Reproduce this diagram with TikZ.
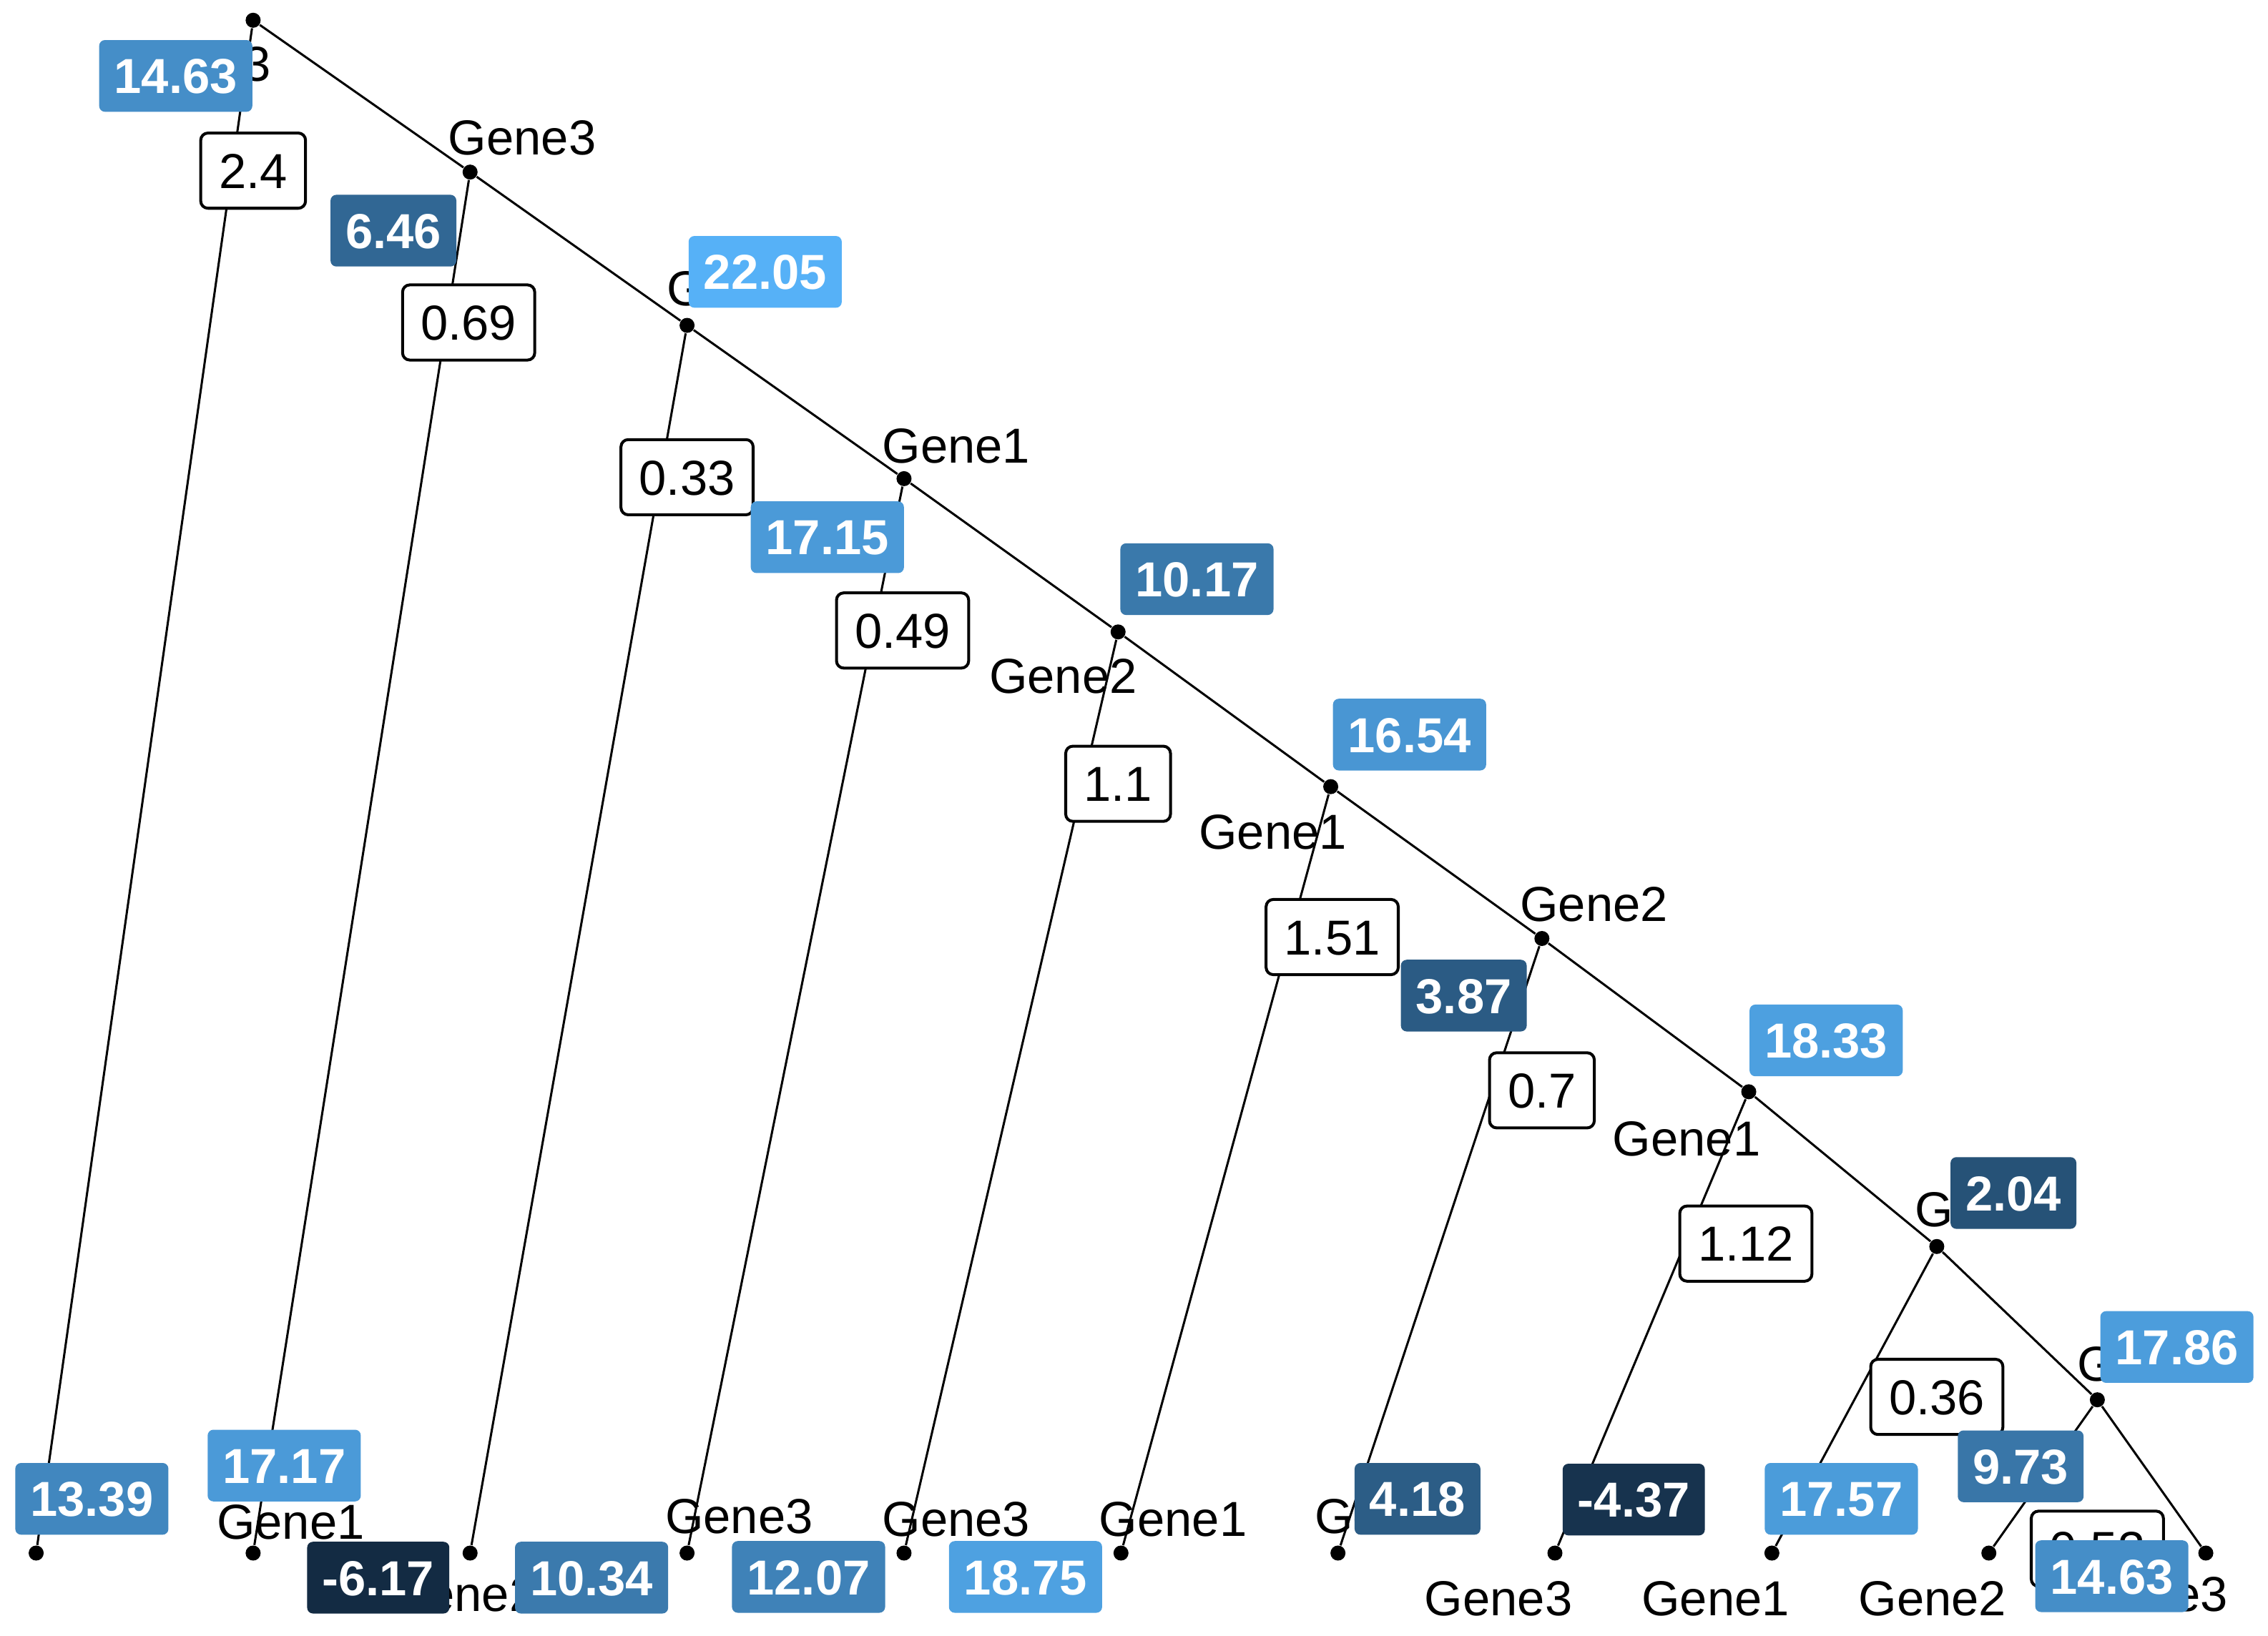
\documentclass[tikz,border=0pt]{standalone}
\usepackage{fontspec}
\setmainfont{Liberation Sans}
\definecolor{lo}{HTML}{132B43}
\definecolor{hi}{HTML}{56B1F7}
\begin{document}
\begin{tikzpicture}[x=0.5pt,y=-0.5pt,
  every node/.style={font=\fontsize{17pt}{20pt}\selectfont},
  dot/.style={circle,fill=black,inner sep=0pt,minimum size=5.2pt},
  edge/.style={line width=0.75pt,black},
  lbl/.style={inner sep=0pt,text height=12.2pt,text depth=0pt},
  whitebox/.style={draw=black,line width=1pt,fill=white,rounded corners=2.5pt,inner xsep=6.3pt,inner ysep=0pt,minimum height=26pt,text height=12.2pt,text depth=0pt},
  bluebox/.style={fill=hi!#1!lo,text=white,rounded corners=2pt,inner xsep=5.2pt,inner ysep=0pt,minimum height=24.8pt,text height=12.2pt,text depth=0pt,font=\fontsize{17pt}{20pt}\selectfont\bfseries}]
\useasboundingbox (0,0) rectangle (1568,1131);
% tree nodes
\node[dot] (n0) at (175,14) {};
\node[dot] (n1) at (325,119) {};
\node[dot] (n2) at (475,225) {};
\node[dot] (n3) at (625,331) {};
\node[dot] (n4) at (773,437) {};
\node[dot] (n5) at (920,544) {};
\node[dot] (n6) at (1066,649) {};
\node[dot] (n7) at (1209,755) {};
\node[dot] (n8) at (1339,862) {};
\node[dot] (n9) at (1450,968) {};
\node[dot] (l0) at (25,1074) {};
\node[dot] (l1) at (175,1074) {};
\node[dot] (l2) at (325,1074) {};
\node[dot] (l3) at (475,1074) {};
\node[dot] (l4) at (625,1074) {};
\node[dot] (l5) at (775,1074) {};
\node[dot] (l6) at (925,1074) {};
\node[dot] (l7) at (1075,1074) {};
\node[dot] (l8) at (1225,1074) {};
\node[dot] (l9) at (1375,1074) {};
\node[dot] (l10) at (1525,1074) {};
% edges
\draw[edge] (n0) -- (l0);
\draw[edge] (n0) -- (n1);
\draw[edge] (n1) -- (l1);
\draw[edge] (n1) -- (n2);
\draw[edge] (n2) -- (l2);
\draw[edge] (n2) -- (n3);
\draw[edge] (n3) -- (l3);
\draw[edge] (n3) -- (n4);
\draw[edge] (n4) -- (l4);
\draw[edge] (n4) -- (n5);
\draw[edge] (n5) -- (l5);
\draw[edge] (n5) -- (n6);
\draw[edge] (n6) -- (l6);
\draw[edge] (n6) -- (n7);
\draw[edge] (n7) -- (l7);
\draw[edge] (n7) -- (n8);
\draw[edge] (n8) -- (l8);
\draw[edge] (n8) -- (n9);
\draw[edge] (n9) -- (l9);
\draw[edge] (n9) -- (l10);
% split variable labels
\node[lbl] (t0) at (136,44) {Gene3};
\node[lbl] (t1) at (361,95) {Gene3};
\node[lbl] (t2) at (512,199) {Gene2};
\node[lbl] (t3) at (661,308) {Gene1};
\node[lbl] (t4) at (735,467) {Gene2};
\node[lbl] (t5) at (880,575) {Gene1};
\node[lbl] (t6) at (1102,625) {Gene2};
\node[lbl] (t7) at (1166,787) {Gene1};
\node[lbl] (t8) at (1375,836) {Gene2};
\node[lbl] (t9) at (1487,943) {Gene3};
% leaf labels
\node[lbl] (u1) at (201,1052) {Gene1};
\node[lbl] (u2) at (320,1102) {Gene2};
\node[lbl] (u3) at (511,1048) {Gene3};
\node[lbl] (u4) at (661,1050) {Gene3};
\node[lbl] (u5) at (811,1050) {Gene1};
\node[lbl] (u6) at (960,1048) {Gene2};
\node[lbl] (u7) at (1036,1105) {Gene3};
\node[lbl] (u8) at (1186,1105) {Gene1};
\node[lbl] (u9) at (1336,1105) {Gene2};
\node[lbl] (u10) at (1489,1102) {Gene3};
% split value boxes
\node[whitebox] (w0) at (175,118) {2.4};
\node[whitebox] (w1) at (324,223) {0.69};
\node[whitebox] (w2) at (475,330) {0.33};
\node[whitebox] (w3) at (624,436) {0.49};
\node[whitebox] (w4) at (773,542) {1.1};
\node[whitebox] (w5) at (921,648) {1.51};
\node[whitebox] (w6) at (1066,754) {0.7};
\node[whitebox] (w7) at (1207,860) {1.12};
\node[whitebox] (w8) at (1339,966) {0.36};
\node[whitebox] (w9) at (1450,1071) {0.53};
% value boxes
\node[bluebox=74] (b0) at (121.5,52.5) {14.63};
\node[bluebox=45] (b1) at (272,159.5) {6.46};
\node[bluebox=100] (b2) at (529,188) {22.05};
\node[bluebox=83] (b3) at (572,371.5) {17.15};
\node[bluebox=58] (b4) at (827.5,400.5) {10.17};
\node[bluebox=80] (b5) at (974.5,508) {16.54};
\node[bluebox=36] (b6) at (1012,688.5) {3.87};
\node[bluebox=87] (b7) at (1262.5,719.5) {18.33};
\node[bluebox=29] (b8) at (1392,825) {2.04};
\node[bluebox=85] (b9) at (1505,931.5) {17.86};
\node[bluebox=69] (c0) at (63.5,1036.5) {13.39};
\node[bluebox=83] (c1) at (196.5,1013.5) {17.17};
\node[bluebox=0] (c2) at (261.5,1091) {-6.17};
\node[bluebox=59] (c3) at (409,1091) {10.34};
\node[bluebox=65] (c4) at (559,1090.5) {12.07};
\node[bluebox=88] (c5) at (709,1090.5) {18.75};
\node[bluebox=37] (c6) at (980,1036.5) {4.18};
\node[bluebox=6] (c7) at (1129.5,1037) {-4.37};
\node[bluebox=84] (c8) at (1273,1036.5) {17.57};
\node[bluebox=56] (c9) at (1397,1014) {9.73};
\node[bluebox=74] (c10) at (1460,1090) {14.63};
\end{tikzpicture}
\end{document}
